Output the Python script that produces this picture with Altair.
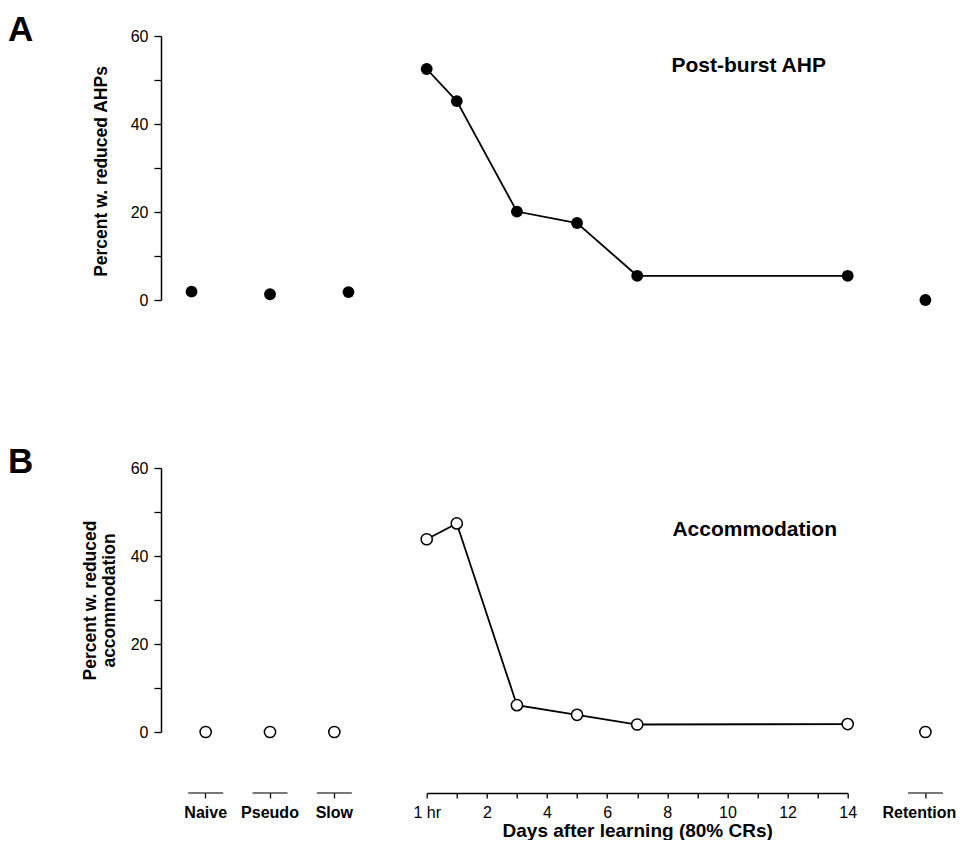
import altair as alt
import pandas as pd

# ---------------- data ----------------
control_groups = ["Naive", "Pseudo", "Slow"]
ahp_control = [1.9, 1.3, 1.8]
acc_control = [0.0, 0.0, 0.0]

days = [0, 1, 3, 5, 7, 14]
ahp_days = [52.5, 45.2, 20.1, 17.5, 5.5, 5.5]
acc_days = [43.8, 47.4, 6.1, 3.9, 1.7, 1.8]

retention_group = ["Retention"]
ahp_retention = [0.0]
acc_retention = [0.0]

y_ticks = [0, 10, 20, 30, 40, 50, 60]
day_ticks = list(range(15))

# ---------------- layout / style ----------------
FONT = "Liberation Sans"
H = 264
W_CAT = 218
W_DAY = 421
W_RET = 60
AX_OFF = 61

def yscale():
    return alt.Scale(domain=[0, 60], nice=False, zero=True)

def y_axis(title, tx, ty):
    return alt.Axis(values=y_ticks,
                    labelExpr="datum.value % 20 === 0 ? datum.label : ''",
                    grid=False, tickSize=7, tickColor="black", tickWidth=1.3,
                    domainColor="black", domainWidth=1.5,
                    labelFont=FONT, labelFontSize=16, labelColor="black", labelPadding=6,
                    title=title, titleFont=FONT, titleFontSize=17.5, titleFontWeight="bold",
                    titleColor="black", titleX=tx, titleY=ty, titleAlign="center",
                    titleBaseline="middle", titleLineHeight=19)

def cat_x_axis(label_offset):
    return alt.Axis(orient="bottom", offset=AX_OFF, domain=False, ticks=True, tickSize=5,
                    tickColor="black", tickWidth=1.3, labelFont=FONT, labelFontSize=16,
                    labelFontWeight="bold", labelColor="black", labelPadding=6, labelAngle=0,
                    labelOffset=label_offset, title=None)

def point_mark(chart, filled):
    if filled:
        return chart.mark_point(shape="circle", filled=True, size=140, color="black", opacity=1)
    return chart.mark_point(shape="circle", filled=True, fill="white", stroke="black",
                            strokeWidth=1.5, size=125, opacity=1)

def cat_panel(groups, vals, filled, bottom, letter, ytitle, tx, ty, padding, label_offset=0):
    df = pd.DataFrame({"group": groups, "v": vals})
    xs = alt.Scale(domain=groups, padding=padding)
    xenc = alt.X("group:N", scale=xs, sort=groups,
                 axis=cat_x_axis(label_offset) if bottom else None)
    pts = point_mark(alt.Chart(df), filled).encode(
        x=xenc, y=alt.Y("v:Q", scale=yscale(), axis=y_axis(ytitle, tx, ty) if ytitle else None))
    layers = [pts]
    if bottom:
        seg = alt.Chart(df).mark_tick(orient="horizontal", size=35, thickness=1.5, color="black").encode(
            x=alt.X("group:N", scale=xs, sort=groups), y=alt.value(H + AX_OFF))
        layers.append(seg)
    if letter:
        lt = alt.Chart(pd.DataFrame({"l": [letter]})).mark_text(
            font=FONT, fontSize=35, fontWeight="bold", align="left", baseline="alphabetic",
            color="black").encode(text="l:N", x=alt.value(-153), y=alt.value(5))
        layers.append(lt)
    return alt.layer(*layers).properties(width=W_CAT if letter else W_RET, height=H)

def day_panel(vals, filled, bottom, label, lx, ly):
    df = pd.DataFrame({"day": days, "v": vals})
    ax = None
    if bottom:
        ax = alt.Axis(values=day_ticks,
                      labelExpr="datum.value === 0 ? '1 hr' : (datum.value % 2 === 0 ? datum.label : '')",
                      offset=AX_OFF, grid=False, domainColor="black", domainWidth=1.5,
                      tickSize=5, tickColor="black", tickWidth=1.3, labelFont=FONT,
                      labelFontSize=16, labelColor="black", labelPadding=6, labelFlush=False,
                      labelOverlap=False, title="Days after learning (80% CRs)", titleFont=FONT,
                      titleFontSize=19, titleFontWeight="bold", titleColor="black", titlePadding=1)
    xenc = alt.X("day:Q", scale=alt.Scale(domain=[0, 14], nice=False, zero=False), axis=ax)
    yenc = alt.Y("v:Q", scale=yscale(), axis=None)
    base = alt.Chart(df)
    line = base.mark_line(color="black", strokeWidth=1.8).encode(x=xenc, y=yenc, order="day:Q")
    pts = point_mark(base, filled).encode(x=xenc, y=yenc)
    txt = alt.Chart(pd.DataFrame({"t": [label]})).mark_text(
        font=FONT, fontSize=21, fontWeight="bold", align="center", baseline="middle",
        color="black").encode(text="t:N", x=alt.value(lx), y=alt.value(ly))
    return alt.layer(line, pts, txt).properties(width=W_DAY, height=H)

catA = cat_panel(control_groups, ahp_control, True, False, "A",
                 "Percent w. reduced AHPs", -59.5, 135, 0.389)
dayA = day_panel(ahp_days, True, False, "Post-burst AHP", 322, 30)
retA = cat_panel(retention_group, ahp_retention, True, False, None, None, 0, 0, 0.5)

catB = cat_panel(control_groups, acc_control, False, True, "B",
                 ["Percent w. reduced", "accommodation"], -71, 132, 0.389)
dayB = day_panel(acc_days, False, True, "Accommodation", 328, 62)
retB = cat_panel(retention_group, acc_retention, False, True, None, None, 0, 0, 0.5,
                 label_offset=-6)

chart = alt.concat(catA, dayA, retA, catB, dayB, retB, columns=3,
                   spacing=alt.RowColnumber(row=168, column=47.7), bounds="flush"
                   ).properties(padding={"top": 5, "left": 0, "right": 0, "bottom": 0}
                   ).configure_view(stroke=None)

chart.save("out.html", embed_options={"renderer": "svg", "actions": False})
